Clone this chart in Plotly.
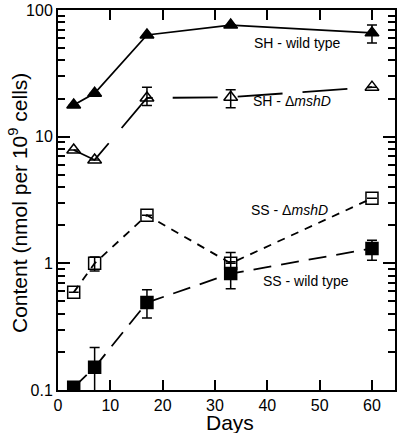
import math
import plotly.graph_objects as go

days_sh_wt = [3, 7, 17, 33, 60]
sh_wt = [17.8, 22, 63.5, 76, 66]
sh_wt_err_plus = [0, 0, 0, 0, 10]
sh_wt_err_minus = [0, 0, 0, 0, 11]

days_sh_mut = [3, 7, 17, 33, 60]
sh_mut = [7.85, 6.55, 20.2, 20.5, 24.6]
sh_mut_err_plus = [0, 0, 4.3, 3.0, 0]
sh_mut_err_minus = [0, 0, 2.6, 3.6, 0]

days_ss_mut = [3, 7, 17, 33, 60]
ss_mut = [0.59, 1.0, 2.4, 1.0, 3.26]
ss_mut_err_plus = [0, 0.12, 0, 0.22, 0]
ss_mut_err_minus = [0, 0.13, 0, 0, 0]

days_ss_wt = [3, 7, 17, 33, 60]
ss_wt = [0.105, 0.151, 0.49, 0.83, 1.31]
ss_wt_err_plus = [0, 0.066, 0.13, 0.2, 0.21]
ss_wt_err_minus = [0, 0.08, 0.12, 0.2, 0.25]

FONT = "Liberation Sans, Arial, Helvetica, sans-serif"

fig = go.Figure()

def add(x, y, ep, em, symbol, dash):
    fig.add_trace(go.Scatter(
        x=x, y=y, mode="lines+markers",
        line=dict(color="black", width=1.8, dash=dash),
        marker=dict(symbol=symbol, size=12, color="black",
                    line=dict(color="black", width=1.5)),
        error_y=dict(type="data", array=ep, arrayminus=em, symmetric=False,
                     color="black", thickness=1.5, width=5),
        showlegend=False,
    ))

add(days_sh_wt, sh_wt, sh_wt_err_plus, sh_wt_err_minus, "triangle-up", "solid")
add(days_sh_mut, sh_mut, sh_mut_err_plus, sh_mut_err_minus, "triangle-up-open", "45px,20px")
add(days_ss_mut, ss_mut, ss_mut_err_plus, ss_mut_err_minus, "square-open", "8px,7px")
add(days_ss_wt, ss_wt, ss_wt_err_plus, ss_wt_err_minus, "square", "18px,10px")

labels = [
    ("SH - wild type", 45.8, 55),
    ("SH - Δ<i>mshD</i>", 44.8, 19.3),
    ("SS - Δ<i>mshD</i>", 44.3, 2.64),
    ("SS - wild type", 47.3, 0.72),
]
for t, x, y in labels:
    fig.add_annotation(x=x, y=math.log10(y), yref="y", xref="x", text=t, showarrow=False,
                       font=dict(family=FONT, size=14, color="black"))

fig.add_annotation(text="Days", showarrow=False, xref="paper", yref="paper",
                   x=(230 - 58) / 337, y=-(422 - 390) / 380, xanchor="center", yanchor="middle",
                   font=dict(family=FONT, size=21, color="black"))
fig.add_annotation(text="Content (nmol per 10<sup>9</sup> cells)", showarrow=False,
                   xref="paper", yref="paper", textangle=-90,
                   x=-(58 - 18) / 337, y=(390 - 203) / 380, xanchor="center", yanchor="middle",
                   font=dict(family=FONT, size=21, color="black"))

fig.update_xaxes(
    range=[0, 64.4], tickvals=[0, 10, 20, 30, 40, 50, 60],
    ticks="inside", ticklen=10, tickwidth=1.5, tickcolor="black",
    showline=True, linewidth=2, linecolor="black", mirror="ticks",
    showgrid=False, zeroline=False, automargin=False,
    tickfont=dict(family=FONT, size=16, color="black"),
)
fig.update_yaxes(
    type="log", range=[-1, 2], tickvals=[0.1, 1, 10, 100],
    ticktext=["0.1", "1", "10", "100"],
    ticks="inside", ticklen=12, tickwidth=1.5, tickcolor="black",
    minor=dict(ticks="inside", ticklen=7, tickwidth=1.5, tickcolor="black",
               tickvals=[0.2, 0.3, 0.4, 0.5, 0.6, 0.7, 0.8, 0.9,
                         2, 3, 4, 5, 6, 7, 8, 9,
                         20, 30, 40, 50, 60, 70, 80, 90], showgrid=False),
    showline=True, linewidth=2, linecolor="black", mirror="ticks",
    showgrid=False, zeroline=False, automargin=False,
    tickfont=dict(family=FONT, size=16, color="black"),
)
fig.update_layout(
    width=400, height=433,
    margin=dict(l=58, r=5, t=10, b=43),
    plot_bgcolor="white", paper_bgcolor="white",
)
fig.write_html("out.html", config={"displayModeBar": False},
               post_script="document.body.style.margin='0';")
